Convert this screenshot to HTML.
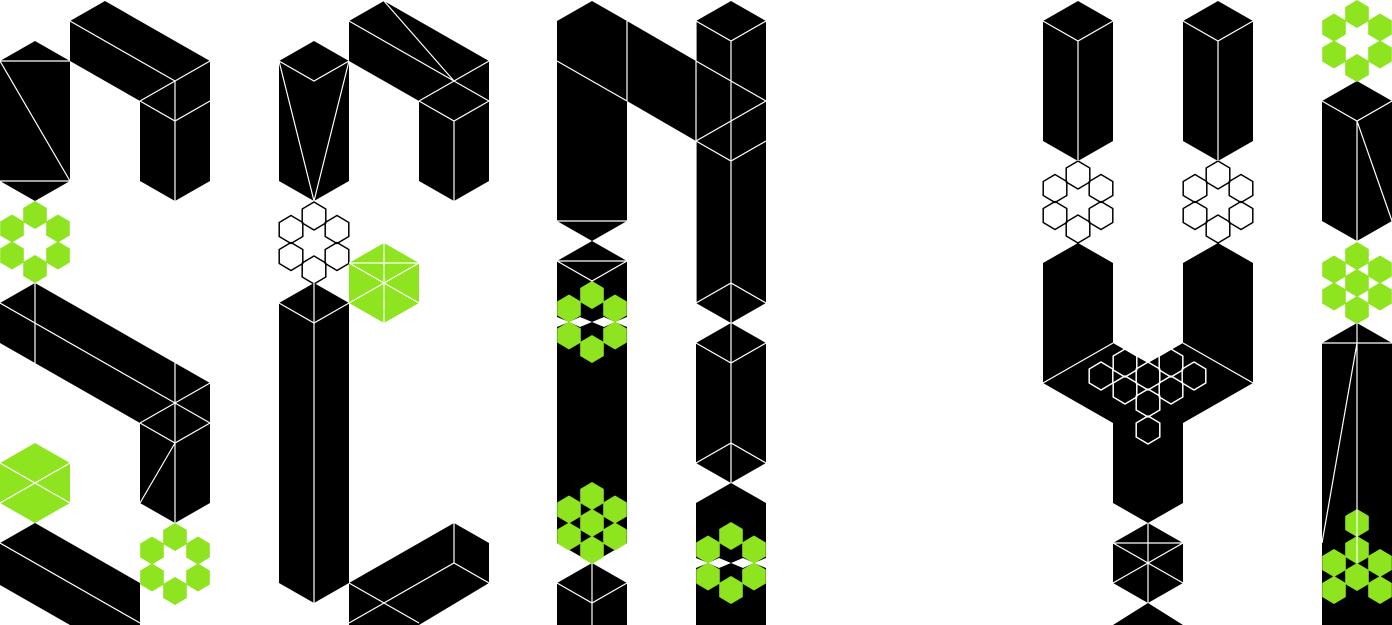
<!DOCTYPE html>
<html><head><meta charset="utf-8"><style>html,body{margin:0;padding:0;background:#fff}svg{display:block}</style></head>
<body>
<svg width="1392" height="625" viewBox="0 0 1392 625" xmlns="http://www.w3.org/2000/svg">
<defs>
<polygon id="h" points="0,-14 11.8,-7 11.8,7 0,14 -11.8,7 -11.8,-7"/>
<g id="ros">
<use href="#h" x="0" y="-27"/><use href="#h" x="0" y="27"/>
<use href="#h" x="-23" y="-13.5"/><use href="#h" x="23" y="-13.5"/>
<use href="#h" x="-23" y="13.5"/><use href="#h" x="23" y="13.5"/>
</g>
<g id="clu"><use href="#ros"/><use href="#h"/></g>
</defs>
<g fill="#000" stroke="none">
<polygon points="0,61 35,41 70,61 70,181 35,201 0,181"/>
<polygon points="70,21 105,1 210,61 210,181 175,201 140,181 140,101 70,61"/>
<polygon points="0,303 35,283 210,383 210,503 175,523 140,503 140,423 0,343"/>
<polygon points="0,543 35,523 140,583 140,625 70,625 0,585"/>
<polygon points="279,61 314,41 349,61 349,181 314,201 279,181"/>
<polygon points="349,21 384,1 489,61 489,181 454,201 419,181 419,101 349,61"/>
<polygon points="279,303 314,283 349,303 349,583 314,603 279,583"/>
<polygon points="349,583 454,523 489,543 489,583 419,625 349,625"/>
<polygon points="557,21 592,1 627,21 696,61 696,21 731,1 766,21 766,303 731,323 696,303 696,141 627,101 627,221 557,221"/>
<polygon points="557,221 627,221 592,241"/>
<polygon points="592,241 627,261 627,543 592,563 557,543 557,261"/>
<polygon points="557,583 592,563 627,583 627,625 557,625"/>
<polygon points="696,343 731,323 766,343 766,463 731,483 696,463"/>
<polygon points="696,503 731,483 766,503 766,625 696,625"/>
<polygon points="1043,21 1078,1 1113,21 1113,141 1078,161 1043,141"/>
<polygon points="1183,21 1218,1 1253,21 1253,141 1218,161 1183,141"/>
<polygon points="1043,263 1078,243 1113,263 1113,343 1148,363 1183,343 1183,263 1218,243 1253,263 1253,383 1183,423 1183,503 1148,523 1113,503 1113,423 1043,383"/>
<polygon points="1113,543 1148,523 1183,543 1183,583 1148,603 1113,583"/>
<polygon points="1113,625 1148,603 1183,625"/>
<polygon points="1322,101 1357,81 1392,101 1392,221 1357,241 1322,221"/>
<polygon points="1322,343 1357,323 1392,343 1392,625 1322,625"/>
</g>
<g fill="#fff">
<polygon points="557,317 569,322 557,327"/><polygon points="569,322 580,317 592,322 580,327"/><polygon points="592,322 604,317 615,322 604,327"/><polygon points="627,317 615,322 627,327"/>
<polygon points="696,558 708,563 696,568"/><polygon points="708,563 719,558 731,563 719,568"/><polygon points="731,563 743,558 754,563 743,568"/><polygon points="766,558 754,563 766,568"/>
</g>
<g fill="#8ee51f">
<use href="#ros" x="35" y="242"/>
<use href="#ros" x="175" y="564"/>
<use href="#ros" x="592" y="322"/>
<use href="#ros" x="731" y="563"/>
<use href="#clu" x="592" y="523"/>
<use href="#ros" x="1357" y="41"/>
<use href="#clu" x="1357" y="283"/>
<use href="#h" x="1357" y="523"/><use href="#h" x="1357" y="550"/>
<use href="#h" x="1334" y="563"/><use href="#h" x="1380" y="563"/>
<use href="#h" x="1357" y="577"/><use href="#h" x="1334" y="590"/><use href="#h" x="1380" y="590"/>
<polygon points="35,443 70,463 70,503 35,523 0,503 0,463"/>
<polygon points="384,243 419,263 419,303 384,323 349,303 349,263"/>
</g>
<g fill="none" stroke="#000" stroke-width="1.5">
<use href="#ros" x="314" y="243"/>
<use href="#ros" x="1078" y="202"/>
<use href="#ros" x="1218" y="202"/>
</g>
<g fill="none" stroke="#fff" stroke-width="1.5">
<use href="#h" x="1101" y="376"/><use href="#h" x="1125" y="363"/><use href="#h" x="1125" y="390"/>
<use href="#h" x="1148" y="376"/><use href="#h" x="1148" y="403"/><use href="#h" x="1171" y="363"/>
<use href="#h" x="1171" y="390"/><use href="#h" x="1194" y="376"/><use href="#h" x="1148" y="430"/>
</g>
<g stroke="#fff" stroke-width="1.2" fill="none">
<path d="M0,61H70M0,61L70,181M0,181H70"/>
<path d="M70,21L175,81M140,101L210,61M140,101L175,121L210,101M175,81V201"/>
<path d="M35,283V363M0,303L175,403M175,363V523M140,423L210,383M175,403L210,423M140,423L175,443L210,423M140,503L175,443"/>
<path d="M0,463L70,503M0,503L70,463"/>
<path d="M0,543L140,623"/>
<path d="M279,61L314,81L349,61M279,61L314,201L349,61"/>
<path d="M349,21L489,101M384,1L454,81M419,101L489,61M419,101L454,121L489,101M454,121V201"/>
<path d="M384,243V323M349,263H419M349,263L419,303M349,303L419,263"/>
<path d="M279,303L314,323L349,303M314,283V603"/>
<path d="M454,523V563M349,583L419,623M349,623L454,563L489,583"/>
<path d="M627,21V101M557,61L627,101M557,221H627M557,261H627M557,261L592,281L627,261"/>
<path d="M696,21L731,41L766,21M731,41V323M696,61L766,101M696,141L766,101M696,141L731,161L766,141M696,21V303M696,303L731,283L766,303"/>
<path d="M696,343L731,363L766,343M731,323V483M696,463L731,443L766,463"/>
<path d="M557,583L592,603L627,583M592,563V625"/>
<path d="M1043,21L1078,41L1113,21M1078,41V161M1183,21L1218,41L1253,21M1218,41V161"/>
<path d="M1043,383L1113,343M1183,343L1253,383"/>
<path d="M1148,523V603M1113,543H1183M1113,543L1183,583M1113,583L1183,543"/>
<path d="M1322,101L1357,121L1392,101M1357,121V241M1357,121L1392,221"/>
<path d="M1322,343H1392M1357,323V563M1357,343L1322,543"/>
</g>
</svg>
</body></html>
